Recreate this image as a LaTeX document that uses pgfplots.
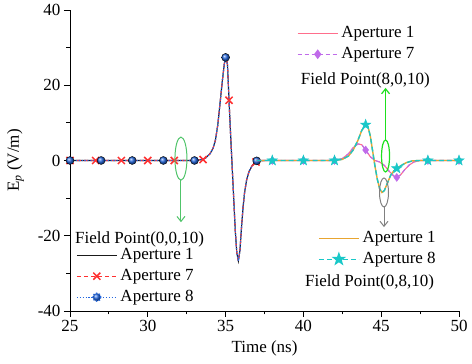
\documentclass[border=0pt]{standalone}
\usepackage{fontspec}
\setmainfont{Liberation Serif}
\usepackage{pgfplots}
\pgfplotsset{compat=1.18}
\usetikzlibrary{arrows.meta}

\definecolor{cblack}{HTML}{1A1A1A}
\definecolor{cred}{HTML}{FF3030}
\definecolor{cblue}{HTML}{2468E0}
\definecolor{cpink}{HTML}{FF6E8C}
\definecolor{cpurple}{HTML}{C06BEA}
\definecolor{corange}{HTML}{E8A530}
\definecolor{ccyan}{HTML}{19C8C8}
\definecolor{cgreenA}{HTML}{50C46A}
\definecolor{cgreenB}{HTML}{1EE01E}
\definecolor{cgray}{HTML}{808080}

\pgfdeclareplotmark{fstar}{%
 \pgfpathmoveto{\pgfqpoint{0pt}{\pgfplotmarksize}}%
 \pgfpathlineto{\pgfqpoint{-0.235\pgfplotmarksize}{0.324\pgfplotmarksize}}%
 \pgfpathlineto{\pgfqpoint{-0.951\pgfplotmarksize}{0.309\pgfplotmarksize}}%
 \pgfpathlineto{\pgfqpoint{-0.380\pgfplotmarksize}{-0.124\pgfplotmarksize}}%
 \pgfpathlineto{\pgfqpoint{-0.588\pgfplotmarksize}{-0.809\pgfplotmarksize}}%
 \pgfpathlineto{\pgfqpoint{0pt}{-0.4\pgfplotmarksize}}%
 \pgfpathlineto{\pgfqpoint{0.588\pgfplotmarksize}{-0.809\pgfplotmarksize}}%
 \pgfpathlineto{\pgfqpoint{0.380\pgfplotmarksize}{-0.124\pgfplotmarksize}}%
 \pgfpathlineto{\pgfqpoint{0.951\pgfplotmarksize}{0.309\pgfplotmarksize}}%
 \pgfpathlineto{\pgfqpoint{0.235\pgfplotmarksize}{0.324\pgfplotmarksize}}%
 \pgfpathclose\pgfusepathqfillstroke}

\pgfplotstableread{
x y
25 0
33.0 0
33.4 0.2
33.7 0.6
34.0 1.8
34.2 3.3
34.35 5.5
34.5 9.5
34.65 15.5
34.8 21.5
34.92 25.8
35.03 27.5
35.12 25.5
35.22 16
35.32 7
35.42 -1.5
35.52 -10
35.62 -18.5
35.72 -24.5
35.82 -26.7
35.92 -24
36.02 -18
36.12 -12.5
36.22 -8.5
36.35 -5.2
36.5 -3
36.7 -1.4
36.9 -0.5
37.1 -0.1
37.5 0
}\tabA

\pgfplotstableread{
x y
37 0
42.0 0
42.5 0.3
42.9 1.2
43.2 2.8
43.5 5.3
43.75 8
44.0 9.5
44.15 9
44.3 6.5
44.45 2.5
44.6 -1.5
44.75 -5
44.9 -7.5
45.05 -8.5
45.2 -8
45.4 -6
45.6 -4
45.8 -2.8
46.0 -2.1
46.3 -1.3
46.6 -0.6
47.0 -0.1
47.5 0
50 0
}\tabC

\pgfplotstableread{
x y
37 0
42.0 0
42.5 0.5
42.9 1.8
43.2 3.4
43.5 4.4
43.75 4.2
44.0 2.8
44.3 1.0
44.6 0.0
44.9 -0.4
45.2 -1.3
45.5 -2.8
45.8 -4.1
46.0 -4.5
46.25 -3.8
46.5 -2.5
46.8 -1.2
47.1 -0.4
47.5 0
50 0
}\tabB

\pgfplotsset{
  base/.style={width=389pt,height=301pt,scale only axis,
    xmin=25,xmax=50,ymin=-40,ymax=40,
    legend cell align=left,
    legend style={draw=none,fill=none,inner sep=0pt,
      font=\fontsize{17}{20}\selectfont,
      nodes={inner sep=0pt,text height=12pt,text depth=4pt},
      row sep=5pt,column sep=3pt},
  },
  sty1/.style={cblack,solid,line width=1.1pt},
  sty7/.style={cred,dashed,line width=1.1pt,dash pattern=on 4pt off 3pt},
  sty8/.style={cblue,dotted,line width=1.3pt,dash pattern=on 1.3pt off 1.6pt},
  styP/.style={cpink,solid,line width=1.1pt},
  styQ/.style={cpurple,line width=1.1pt,dash pattern=on 4pt off 3pt},
  styO/.style={corange,solid,line width=1.4pt},
  styC/.style={ccyan,line width=1.4pt,dash pattern=on 5pt off 3pt},
  mk7/.style={only marks,mark=x,mark size=5pt,mark options={cred,solid,line width=1.5pt}},
  mk8/.style={only marks,mark=ball,mark size=4pt,mark options={ball color=cblue,draw=none}},
  mkQ/.style={only marks,mark=diamond*,mark size=4pt,mark options={cpurple,fill=cpurple,solid}},
  mkC/.style={only marks,mark=fstar,mark size=5.5pt,mark options={ccyan,fill=ccyan,solid}},
}

\begin{document}
\begin{tikzpicture}
% axis 1: field point (0,0,10), with the axis lines
\begin{axis}[base,
  axis x line*=bottom, axis y line*=left,
  xtick={25,30,...,50}, ytick={-40,-20,...,40},
  minor x tick num=1, minor y tick num=1,
  tick align=outside, major tick length=6pt, minor tick length=3.5pt,
  every tick/.style={black,line width=0.8pt},
  axis line style={black,line width=0.8pt},
  ticklabel style={font=\fontsize{17}{20}\selectfont},
  /pgf/number format/assume math mode=true,
  xlabel={Time (ns)}, ylabel={E\textsubscript{\textit{p}} (V/m)},
  label style={font=\fontsize{17}{20}\selectfont},
  xlabel style={yshift=-2pt}, ylabel style={yshift=7pt},
  legend image code/.code={\draw[mark repeat=2,mark phase=2,#1] plot coordinates {(0pt,0pt) (20pt,0pt) (40pt,0pt)};},
  legend style={at={(0.0154,0.2126)},anchor=north west},
]
\addlegendimage{sty1}\addlegendentry{Aperture 1}
\addlegendimage{sty7,mark=x,mark size=5pt,mark options={solid,line width=1.5pt}}\addlegendentry{Aperture 7}
\addlegendimage{sty8,mark=ball,mark size=4pt,mark options={ball color=cblue,draw=none}}\addlegendentry{Aperture 8}
\addplot[sty1,forget plot] table[x=x,y=y] {\tabA};
\addplot[sty7,forget plot] table[x=x,y=y] {\tabA};
\addplot[sty8,forget plot] table[x=x,y=y] {\tabA};
\addplot[mk7,forget plot] coordinates {(25,0) (26.65,0) (28.3,0) (30,0) (31.7,0) (33.55,0.25) (35.22,16) (36.95,-0.4)};
\addplot[mk8,forget plot] coordinates {(25,0) (27,0) (29,0) (31,0) (33,0) (35,27.4) (37,-0.1)};
\node[anchor=west,font=\fontsize{17}{20}\selectfont,inner sep=0pt] at (axis cs:25.32,-21.0) {Field Point(0,0,10)};
\end{axis}

% axis 2: field point (8,0,10)
\begin{axis}[base, hide axis,
  legend image code/.code={\draw[mark repeat=2,mark phase=2,#1] plot coordinates {(0pt,0pt) (20pt,0pt) (40pt,0pt)};},
  legend style={at={(0.5835,0.95)},anchor=north west},
]
\addlegendimage{styP}\addlegendentry{Aperture 1}
\addlegendimage{styQ,mark=diamond*,mark size=4pt,mark options={solid,fill=cpurple}}\addlegendentry{Aperture 7}
\addplot[styP,forget plot] table[x=x,y=y] {\tabB};
\addplot[styQ,forget plot] table[x=x,y=y] {\tabB};
\addplot[mkQ,forget plot] coordinates {(38,0) (40,0) (42,0) (44,2.8) (46,-4.5) (48,0) (50,0)};
\node[anchor=west,font=\fontsize{17}{20}\selectfont,inner sep=0pt] at (axis cs:39.83,21.4) {Field Point(8,0,10)};
\end{axis}

% axis 3: field point (0,8,10)
\begin{axis}[base, hide axis,
  legend image code/.code={\draw[mark repeat=2,mark phase=2,#1] plot coordinates {(0pt,0pt) (20pt,0pt) (40pt,0pt)};},
  legend style={at={(0.6375,0.269)},anchor=north west},
]
\addlegendimage{styO}\addlegendentry{Aperture 1}
\addlegendimage{styC,mark=fstar,mark size=5.5pt,mark options={solid,fill=ccyan}}\addlegendentry{Aperture 8}
\addplot[styO,forget plot] table[x=x,y=y] {\tabC};
\addplot[styC,forget plot] table[x=x,y=y] {\tabC};
\addplot[mkC,forget plot] coordinates {(38,0) (40,0) (42,0) (44,9.5) (46,-2.1) (48,0) (50,0)};
\node[anchor=west,font=\fontsize{17}{20}\selectfont,inner sep=0pt] at (axis cs:40.10,-32.4) {Field Point(0,8,10)};
% annotations
\draw[cgreenA,line width=1pt] (axis cs:32.13,0.5) ellipse [x radius=6pt,y radius=21.5pt];
\draw[cgreenA,line width=1pt,-{Straight Barb[length=5pt,width=8pt]}] (axis cs:32.13,-5.2) -- (axis cs:32.13,-16.4);
\draw[cgreenB,line width=1.2pt] (axis cs:45.28,1.2) ellipse [x radius=4pt,y radius=16pt];
\draw[cgreenB,line width=1.2pt,-{Straight Barb[length=5pt,width=8pt]}] (axis cs:45.28,5.45) -- (axis cs:45.28,19.3);
\draw[cgray,line width=1pt] (axis cs:45.18,-8.5) ellipse [x radius=4.5pt,y radius=14.5pt];
\draw[cgray,line width=1pt,-{Straight Barb[length=5pt,width=8pt]}] (axis cs:45.18,-12.4) -- (axis cs:45.18,-17.7);
\coordinate (sw) at (rel axis cs:0,0);
\coordinate (ne) at (rel axis cs:1,1);
\end{axis}
\pgfresetboundingbox
\path ([shift={(-70pt,-53pt)}]sw) rectangle ([shift={(13pt,10pt)}]ne);
\end{tikzpicture}
\end{document}
